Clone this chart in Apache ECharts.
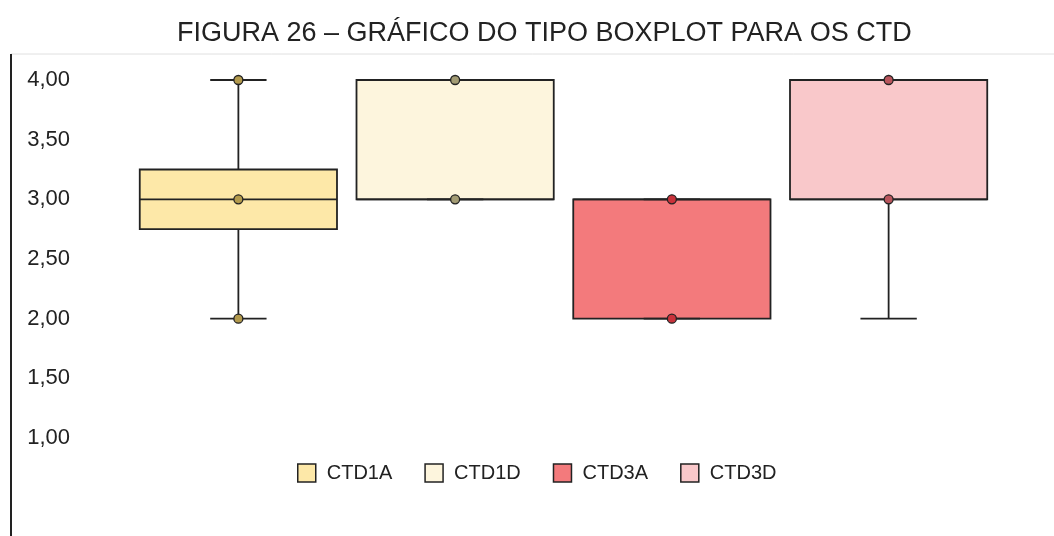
<!DOCTYPE html>
<html>
<head>
<meta charset="utf-8">
<script src="https://cdn.jsdelivr.net/npm/echarts@6/dist/echarts.min.js"></script>
<style>
  html, body { margin: 0; padding: 0; background: #fff; }
  #main { width: 1054px; height: 536px; }
</style>
</head>
<body>
<div id="main"></div>
<script>
var categories = ['CTD1A', 'CTD1D', 'CTD3A', 'CTD3D'];
// [min, q1, mediana, q3, max]
var boxValues = [
    [2, 2.75, 3, 3.25, 4],
    [3, 3, 3, 4, 4],
    [2, 2, 3, 3, 3],
    [2, 3, 3, 4, 4]
];
// pontos marcados em cada caixa
var pointValues = [
    [2, 3, 4],
    [3, 4],
    [2, 3],
    [3, 4]
];
var yTicks = [1, 1.5, 2, 2.5, 3, 3.5, 4];

var fills = ['#fde8a8', '#fdf5dd', '#f37a7c', '#f9c8ca'];
var dotColors = ['#b39a4c', '#a39c74', '#c9323b', '#b9555c'];
var lineColor = '#222';

var renderBox = function(params, api) {
    var idx = api.value(0);
    var band = api.size([1, 0])[0];
    var half = band * 0.455;
    var capHalf = band * 0.13;
    var cx = api.coord([idx, 0])[0];
    var yMin = api.coord([idx, api.value(1)])[1];
    var yQ1 = api.coord([idx, api.value(2)])[1];
    var yMed = api.coord([idx, api.value(3)])[1];
    var yQ3 = api.coord([idx, api.value(4)])[1];
    var yMax = api.coord([idx, api.value(5)])[1];
    var st = { stroke: lineColor, lineWidth: 1.8 };
    return {
        type: 'group',
        children: [
            { type: 'line', shape: { x1: cx, y1: yMax, x2: cx, y2: yQ3 }, style: st },
            { type: 'line', shape: { x1: cx, y1: yQ1, x2: cx, y2: yMin }, style: st },
            { type: 'rect', shape: { x: cx - half, y: yQ3, width: half * 2, height: yQ1 - yQ3 },
              style: { fill: fills[idx], stroke: lineColor, lineWidth: 1.8 } },
            { type: 'line', shape: { x1: cx - half, y1: yMed, x2: cx + half, y2: yMed }, style: st },
            { type: 'line', shape: { x1: cx - capHalf, y1: yMax, x2: cx + capHalf, y2: yMax }, style: st },
            { type: 'line', shape: { x1: cx - capHalf, y1: yMin, x2: cx + capHalf, y2: yMin }, style: st }
        ]
    };
};

var series = [];
categories.forEach(function(name, i) {
    series.push({
        name: name,
        type: 'custom',
        renderItem: renderBox,
        itemStyle: { color: fills[i] },
        encode: { x: 0, y: [1, 2, 3, 4, 5] },
        data: [[i].concat(boxValues[i])],
        z: 2
    });
});
categories.forEach(function(name, i) {
    series.push({
        name: name + '_pontos',
        type: 'scatter',
        symbol: 'circle',
        symbolSize: 9,
        itemStyle: { color: dotColors[i], borderColor: lineColor, borderWidth: 1.3, opacity: 1 },
        data: pointValues[i].map(function(v) { return [i, v]; }),
        z: 5
    });
});

var myChart = echarts.init(document.getElementById('main'));
var option = {
    backgroundColor: '#fff',
    animation: false,
    title: {
        text: 'FIGURA 26 – GRÁFICO DO TIPO BOXPLOT PARA OS CTD',
        left: 172,
        top: 15,
        textStyle: { fontFamily: 'Liberation Sans, Arial', fontSize: 27, fontWeight: 'normal', color: '#222' }
    },
    legend: {
        data: categories,
        top: 458,
        left: 292,
        icon: 'rect',
        itemWidth: 18,
        itemHeight: 18,
        itemGap: 32,
        itemStyle: { borderColor: lineColor, borderWidth: 1.5 },
        textStyle: { fontFamily: 'Liberation Sans, Arial', fontSize: 20, color: '#222', padding: [0, 0, 0, 6] }
    },
    grid: { left: 130, right: 57, top: 80, bottom: 98 },
    xAxis: {
        type: 'category',
        data: categories,
        show: false
    },
    yAxis: {
        type: 'value',
        min: yTicks[0],
        max: yTicks[yTicks.length - 1],
        interval: 0.5,
        axisLine: { show: false },
        axisTick: { show: false },
        splitLine: { show: false },
        axisLabel: {
            margin: 60,
            fontFamily: 'Liberation Sans, Arial',
            fontSize: 22,
            color: '#222',
            formatter: function(v) { return v.toFixed(2).replace('.', ','); }
        }
    },
    graphic: [
        { type: 'line', shape: { x1: 11, y1: 54, x2: 1054, y2: 54 }, style: { stroke: '#e0e0e0', lineWidth: 1 } },
        { type: 'line', shape: { x1: 11, y1: 54, x2: 11, y2: 536 }, style: { stroke: '#222', lineWidth: 2 } }
    ],
    series: series
};
myChart.setOption(option);
</script>
</body>
</html>
